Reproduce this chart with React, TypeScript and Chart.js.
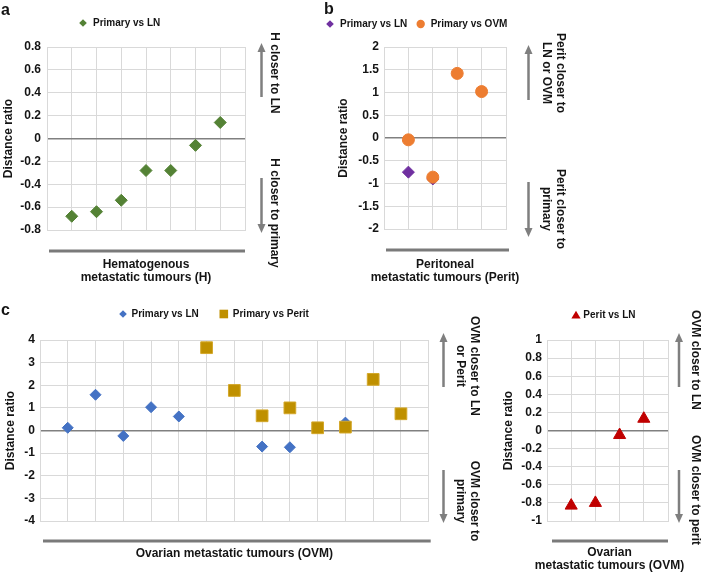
import React, { useEffect, useRef } from "react";
import { Chart, registerables } from "chart.js";

Chart.register(...registerables);

// ---------------- DATA ----------------
// Panel a: hematogenous metastatic tumours (H)
const hTumours = [1, 2, 3, 4, 5, 6, 7];
const hPrimaryVsLN = [-0.68, -0.64, -0.54, -0.28, -0.28, -0.06, 0.14];
const hYTicks = [-0.8, -0.6, -0.4, -0.2, 0, 0.2, 0.4, 0.6, 0.8];

// Panel b: peritoneal metastatic tumours (Perit)
const peritTumours = [1, 2, 3, 4];
const peritPrimaryVsLN = [-0.75, -0.9, null, null];
const peritPrimaryVsOVM = [-0.04, -0.86, 1.42, 1.02];
const peritYTicks = [-2, -1.5, -1, -0.5, 0, 0.5, 1, 1.5, 2];

// Panel c: ovarian metastatic tumours (OVM)
const ovmTumours = [1, 2, 3, 4, 5, 6, 7, 8, 9, 10, 11, 12, 13];
const ovmPrimaryVsLN = [0.12, 1.58, -0.24, 1.03, 0.62, null, null, -0.71, -0.74, 0.1, 0.35, null, null];
const ovmPrimaryVsPerit = [null, null, null, null, null, 3.66, 1.77, 0.65, 1.0, 0.12, 0.15, 2.26, 0.74];
const ovmYTicks = [-4, -3, -2, -1, 0, 1, 2, 3, 4];

// Panel c (right): ovarian metastatic tumours, Perit vs LN
const ovmPeritTumours = [1, 2, 3, 4];
const ovmPeritVsLN = [-0.83, -0.8, -0.05, 0.13];
const ovmPeritYTicks = [-1, -0.8, -0.6, -0.4, -0.2, 0, 0.2, 0.4, 0.6, 0.8, 1];

// ---------------- STYLE ----------------
const FONT = '"Liberation Sans", Arial, Helvetica, sans-serif';
const GRID = "#d9d9d9";
const ZERO = "#808080";
const TEXT = "#141414";
const GREEN = "#548235";
const PURPLE = "#7030a0";
const ORANGE = "#ed7d31";
const BLUE = "#4472c4";
const GOLD = "#bf9000";
const RED = "#c00000";

const toPoints = (xs: number[], ys: (number | null)[]) =>
  xs
    .map((x, i) => (ys[i] === null || ys[i] === undefined ? null : { x, y: ys[i] as number }))
    .filter((p) => p !== null) as { x: number; y: number }[];

// Draws the grey group bar under the plot and the group title beneath it
const groupLinePlugin = {
  id: "groupLine",
  afterDraw(chart: any, _args: any, opts: any) {
    const { ctx, chartArea } = chart;
    ctx.save();
    ctx.strokeStyle = "#7a7a7a";
    ctx.lineWidth = 3;
    const y = chartArea.bottom + opts.dy;
    ctx.beginPath();
    ctx.moveTo(chartArea.left + opts.dl, y);
    ctx.lineTo(chartArea.right + opts.dr, y);
    ctx.stroke();
    ctx.fillStyle = TEXT;
    ctx.font = `bold 12px ${FONT}`;
    ctx.textAlign = "center";
    ctx.textBaseline = "middle";
    const cx = (chartArea.left + chartArea.right) / 2 + (opts.tdx || 0);
    (opts.lines as string[]).forEach((t, i) => {
      ctx.fillText(t, cx, chartArea.bottom + opts.ty[i]);
    });
    ctx.restore();
  },
};

type PanelProps = {
  left: number;
  top: number;
  width: number;
  height: number;
  padLeft: number;
  padTop: number;
  padRight: number;
  yWidth: number;
  xHeight: number;
  tickPad: number;
  yTicks: number[];
  xCount: number;
  line: { dy: number; dl: number; dr: number; lines: string[]; ty: number[]; tdx?: number };
  datasets: any[];
};

function ScatterPanel(p: PanelProps) {
  const ref = useRef<HTMLCanvasElement | null>(null);
  useEffect(() => {
    if (!ref.current) return;
    const xTickVals = Array.from({ length: p.xCount + 2 }, (_, i) => i);
    const chart = new Chart(ref.current, {
      type: "scatter",
      data: { datasets: p.datasets },
      plugins: [groupLinePlugin as any],
      options: {
        responsive: false,
        animation: false,
        devicePixelRatio: 1,
        events: [],
        layout: { padding: { left: p.padLeft, top: p.padTop, right: p.padRight, bottom: 0 } },
        plugins: {
          legend: { display: false },
          tooltip: { enabled: false },
          groupLine: p.line,
        } as any,
        scales: {
          x: {
            type: "linear",
            min: 0,
            max: p.xCount + 1,
            afterBuildTicks: (s: any) => {
              s.ticks = xTickVals.map((v) => ({ value: v }));
            },
            afterFit: (s: any) => {
              s.height = p.xHeight;
            },
            ticks: { display: false },
            grid: { color: GRID, lineWidth: 1, drawTicks: false },
            border: { color: GRID, width: 1 },
            title: { display: false },
          },
          y: {
            type: "linear",
            min: p.yTicks[0],
            max: p.yTicks[p.yTicks.length - 1],
            afterBuildTicks: (s: any) => {
              s.ticks = p.yTicks.map((v) => ({ value: v }));
            },
            afterFit: (s: any) => {
              s.width = p.yWidth;
            },
            ticks: {
              autoSkip: false,
              padding: p.tickPad,
              color: TEXT,
              font: { family: FONT, size: 12, weight: "bold" },
              callback: (v: any) => String(+Number(v).toFixed(2)),
            },
            grid: {
              drawTicks: false,
              color: (c: any) => (c.tick && c.tick.value === 0 ? ZERO : GRID),
              lineWidth: (c: any) => (c.tick && c.tick.value === 0 ? 1.6 : 1),
            },
            border: { color: GRID, width: 1 },
            title: {
              display: true,
              text: "Distance ratio",
              color: TEXT,
              font: { family: FONT, size: 12, weight: "bold", lineHeight: 1.2 },
              padding: { top: 0, bottom: 0 },
            },
          },
        },
      } as any,
    });
    return () => chart.destroy();
  }, []);
  return (
    <canvas
      ref={ref}
      width={p.width}
      height={p.height}
      style={{ position: "absolute", left: p.left, top: p.top, width: p.width, height: p.height }}
    />
  );
}

// ---------------- ANNOTATION HELPERS ----------------
function Label(props: { x: number; y: number; text: string; size?: number }) {
  return (
    <div
      style={{
        position: "absolute",
        left: props.x,
        top: props.y,
        transform: "translateY(-50%)",
        fontFamily: FONT,
        fontWeight: "bold",
        fontSize: props.size || 10,
        lineHeight: 1,
        whiteSpace: "nowrap",
        color: TEXT,
      }}
    >
      {props.text}
    </div>
  );
}

function RotText(props: { cx: number; cy: number; lines: string[] }) {
  return (
    <div
      style={{
        position: "absolute",
        left: props.cx,
        top: props.cy,
        transform: "translate(-50%, -50%) rotate(90deg)",
        fontFamily: FONT,
        fontWeight: "bold",
        fontSize: 12,
        lineHeight: "13.5px",
        whiteSpace: "nowrap",
        textAlign: "center",
        color: TEXT,
      }}
    >
      {props.lines.map((l, i) => (
        <div key={i}>{l}</div>
      ))}
    </div>
  );
}

function Arrow(props: { x: number; tip: number; tail: number }) {
  const { x, tip, tail } = props;
  const dir = tail > tip ? 1 : -1;
  const headLen = 9;
  const hw = 4;
  return (
    <g>
      <line x1={x} y1={tip + dir * (headLen - 1)} x2={x} y2={tail} stroke="#7f7f7f" strokeWidth={2.5} />
      <polygon
        points={`${x},${tip} ${x - hw},${tip + dir * headLen} ${x + hw},${tip + dir * headLen}`}
        fill="#7f7f7f"
      />
    </g>
  );
}

function Marker(props: { shape: string; cx: number; cy: number; r: number; color: string }) {
  const { shape, cx, cy, r, color } = props;
  if (shape === "diamond")
    return <polygon points={`${cx},${cy - r} ${cx + r},${cy} ${cx},${cy + r} ${cx - r},${cy}`} fill={color} />;
  if (shape === "circle") return <circle cx={cx} cy={cy} r={r} fill={color} />;
  if (shape === "square") return <rect x={cx - r} y={cy - r} width={2 * r} height={2 * r} fill={color} />;
  return (
    <polygon
      points={`${cx},${cy - r} ${cx + r * 1.1},${cy + r * 0.85} ${cx - r * 1.1},${cy + r * 0.85}`}
      fill={color}
    />
  );
}

// ---------------- APP ----------------
export default function App() {
  const dsA = [
    {
      label: "Primary vs LN",
      data: toPoints(hTumours, hPrimaryVsLN),
      pointStyle: "rectRot",
      pointRadius: 6,
      backgroundColor: GREEN,
      borderColor: GREEN,
      borderWidth: 1,
    },
  ];
  const dsB = [
    {
      label: "Primary vs LN",
      data: toPoints(peritTumours, peritPrimaryVsLN),
      pointStyle: "rectRot",
      pointRadius: 6,
      backgroundColor: PURPLE,
      borderColor: PURPLE,
      borderWidth: 1,
      order: 1,
    },
    {
      label: "Primary vs OVM",
      data: toPoints(peritTumours, peritPrimaryVsOVM),
      pointStyle: "circle",
      pointRadius: 6,
      backgroundColor: ORANGE,
      borderColor: ORANGE,
      borderWidth: 1,
      order: 0,
    },
  ];
  const dsC = [
    {
      label: "Primary vs LN",
      data: toPoints(ovmTumours, ovmPrimaryVsLN),
      pointStyle: "rectRot",
      pointRadius: 5.5,
      backgroundColor: BLUE,
      borderColor: BLUE,
      borderWidth: 1,
      order: 1,
    },
    {
      label: "Primary vs Perit",
      data: toPoints(ovmTumours, ovmPrimaryVsPerit),
      pointStyle: "rect",
      pointRadius: 8.3,
      backgroundColor: GOLD,
      borderColor: "#d4a82a",
      borderWidth: 1,
      order: 0,
    },
  ];
  const dsD = [
    {
      label: "Perit vs LN",
      data: toPoints(ovmPeritTumours, ovmPeritVsLN),
      pointStyle: "triangle",
      pointRadius: 7,
      backgroundColor: RED,
      borderColor: RED,
      borderWidth: 1,
    },
  ];

  return (
    <div style={{ position: "absolute", left: 0, top: 0, width: 702, height: 575, background: "#fff", overflow: "hidden" }}>
      <ScatterPanel
        left={0} top={30} width={252} height={255}
        padLeft={1} padTop={17} padRight={4}
        yWidth={46} xHeight={55} tickPad={6}
        yTicks={hYTicks} xCount={hTumours.length}
        line={{ dy: 21, dl: 2, dr: 0, lines: ["Hematogenous", "metastatic tumours (H)"], ty: [34.3, 48.1] }}
        datasets={dsA}
      />
      <ScatterPanel
        left={335} top={30} width={200} height={255}
        padLeft={1} padTop={17} padRight={29}
        yWidth={48} xHeight={56} tickPad={5}
        yTicks={peritYTicks} xCount={peritTumours.length}
        line={{ dy: 21, dl: 2, dr: 3, lines: ["Peritoneal", "metastatic tumours (Perit)"], ty: [35.3, 48.7] }}
        datasets={dsB}
      />
      <ScatterPanel
        left={0} top={323} width={438} height={238}
        padLeft={3} padTop={17} padRight={4}
        yWidth={37} xHeight={40} tickPad={5}
        yTicks={ovmYTicks} xCount={ovmTumours.length}
        line={{ dy: 20, dl: 3, dr: 2, lines: ["Ovarian metastatic tumours (OVM)"], ty: [33] }}
        datasets={dsC}
      />
      <ScatterPanel
        left={500} top={323} width={200} height={250}
        padLeft={1} padTop={17} padRight={32}
        yWidth={46} xHeight={52} tickPad={5}
        yTicks={ovmPeritYTicks} xCount={ovmPeritTumours.length}
        line={{ dy: 20, dl: 5, dr: 0, lines: ["Ovarian", "metastatic tumours (OVM)"], ty: [31.7, 44.7], tdx: 2 }}
        datasets={dsD}
      />

      <svg width={702} height={575} style={{ position: "absolute", left: 0, top: 0, pointerEvents: "none" }}>
        {/* arrows */}
        <Arrow x={261.5} tip={43} tail={97} />
        <Arrow x={261.5} tip={233} tail={178} />
        <Arrow x={528.5} tip={45} tail={100} />
        <Arrow x={528.5} tip={237} tail={182} />
        <Arrow x={443.5} tip={333} tail={387} />
        <Arrow x={443.5} tip={523} tail={470} />
        <Arrow x={679} tip={333} tail={387} />
        <Arrow x={679} tip={523} tail={470} />
        {/* legend markers */}
        <Marker shape="diamond" cx={83} cy={23} r={3.8} color={GREEN} />
        <Marker shape="diamond" cx={330} cy={24} r={3.8} color={PURPLE} />
        <Marker shape="circle" cx={420.7} cy={24} r={4.2} color={ORANGE} />
        <Marker shape="diamond" cx={123} cy={314} r={3.8} color={BLUE} />
        <Marker shape="square" cx={223.8} cy={314} r={4.3} color={GOLD} />
        <Marker shape="triangle" cx={576} cy={315} r={4.2} color={RED} />
      </svg>

      {/* panel letters */}
      <div style={{ position: "absolute", left: 1, top: 2, fontFamily: FONT, fontWeight: "bold", fontSize: 16, lineHeight: "16px", color: TEXT }}>a</div>
      <div style={{ position: "absolute", left: 324, top: 1, fontFamily: FONT, fontWeight: "bold", fontSize: 16, lineHeight: "16px", color: TEXT }}>b</div>
      <div style={{ position: "absolute", left: 1, top: 302, fontFamily: FONT, fontWeight: "bold", fontSize: 16, lineHeight: "16px", color: TEXT }}>c</div>

      {/* legends */}
      <Label x={93} y={23} text="Primary vs LN" />
      <Label x={340} y={24} text="Primary vs LN" />
      <Label x={430.7} y={24} text="Primary vs OVM" />
      <Label x={131.5} y={314} text="Primary vs LN" />
      <Label x={232.8} y={314} text="Primary vs Perit" />
      <Label x={583.3} y={315} text="Perit vs LN" />

      {/* side annotations */}
      <RotText cx={274} cy={72.5} lines={["H closer to LN"]} />
      <RotText cx={274} cy={212.5} lines={["H closer to primary"]} />
      <RotText cx={553} cy={72.5} lines={["Perit closer to", "LN or OVM"]} />
      <RotText cx={553} cy={209} lines={["Perit closer to", "primary"]} />
      <RotText cx={467.3} cy={365.8} lines={["OVM closer to LN", "or Perit"]} />
      <RotText cx={467.3} cy={500.5} lines={["OVM closer to", "primary"]} />
      <RotText cx={695} cy={360} lines={["OVM closer to LN"]} />
      <RotText cx={695} cy={490} lines={["OVM closer to perit"]} />
    </div>
  );
}
